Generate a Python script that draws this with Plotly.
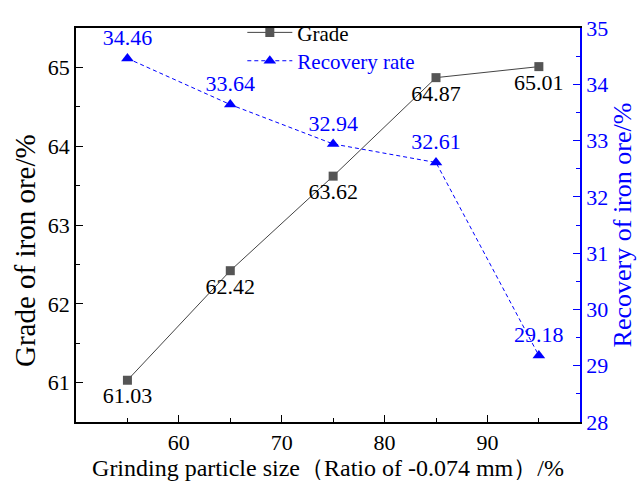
import plotly.graph_objects as go

x_size = [55, 65, 75, 85, 95]
grade = [61.03, 62.42, 63.62, 64.87, 65.01]
recovery = [34.46, 33.64, 32.94, 32.61, 29.18]
grade_labels = ["61.03", "62.42", "63.62", "64.87", "65.01"]
recovery_labels = ["34.46", "33.64", "32.94", "32.61", "29.18"]

FONT = "Liberation Serif"
BLUE = "#0000ff"

fig = go.Figure()
fig.add_trace(go.Scatter(
    x=x_size, y=grade, name="Grade", mode="lines+markers+text",
    legend="legend",
    line=dict(color="#444444", width=1),
    marker=dict(symbol="square", size=9, color="#555555"),
    text=grade_labels, textposition="bottom center",
    textfont=dict(family=FONT, size=22, color="black"),
))
fig.add_trace(go.Scatter(
    x=x_size, y=recovery, name="Recovery rate",
    mode="lines+markers+text", yaxis="y2", legend="legend2",
    line=dict(color=BLUE, width=1, dash="4px,3px"),
    marker=dict(symbol="triangle-up", size=11, color=BLUE),
    text=recovery_labels, textposition="top center",
    textfont=dict(family=FONT, size=22, color=BLUE),
))

legend_common = dict(x=0.33, xanchor="left", yanchor="middle",
                     bgcolor="rgba(0,0,0,0)", itemwidth=45)

fig.update_layout(
    width=644, height=484,
    margin=dict(l=76, r=60, t=16, b=60),
    plot_bgcolor="white", paper_bgcolor="white",
    font=dict(family=FONT, size=22, color="black"),
    showlegend=True,
    legend=dict(y=0.988, font=dict(family=FONT, size=21, color="black"), **legend_common),
    legend2=dict(y=0.916, font=dict(family=FONT, size=21, color=BLUE), **legend_common),
    xaxis=dict(
        range=[50, 99], tickvals=[60, 70, 80, 90],
        ticks="inside", ticklen=7, tickcolor="black", tickwidth=1,
        minor=dict(ticks="inside", tickvals=[55, 65, 75, 85, 95], ticklen=4, tickcolor="black"),
        showline=True, linecolor="black", linewidth=1.5, mirror=True,
        showgrid=False, zeroline=False,
        title=dict(text="Grinding particle size（Ratio of -0.074 mm）/%", font=dict(family=FONT, size=24), standoff=0),
        tickfont=dict(family=FONT, size=22),
    ),
    yaxis=dict(
        range=[60.5, 65.5], tickvals=[61, 62, 63, 64, 65],
        ticks="inside", ticklen=7, tickcolor="black",
        minor=dict(ticks="inside", tickvals=[60.5, 61.5, 62.5, 63.5, 64.5, 65.5], ticklen=4, tickcolor="black"),
        showline=True, linecolor="black", linewidth=1.5,
        showgrid=False, zeroline=False,
        tickfont=dict(family=FONT, size=22),
    ),
    yaxis2=dict(
        range=[28, 35], tickvals=[28, 29, 30, 31, 32, 33, 34, 35],
        overlaying="y", side="right",
        ticks="inside", ticklen=7, tickcolor=BLUE,
        minor=dict(ticks="inside", tickvals=[28.5, 29.5, 30.5, 31.5, 32.5, 33.5, 34.5], ticklen=4, tickcolor=BLUE),
        showline=True, linecolor=BLUE, linewidth=1.5,
        showgrid=False, zeroline=False,
        title=dict(text="Recovery of iron ore/%", font=dict(family=FONT, size=26, color=BLUE), standoff=6),
        tickfont=dict(family=FONT, size=22, color=BLUE),
    ),
)

# Left axis title (placed slightly below centre, as in the reference)
fig.add_annotation(
    text="Grade of iron ore/%", xref="paper", yref="paper",
    x=0, y=0.434, xshift=-51, xanchor="center", yanchor="middle",
    textangle=-90, showarrow=False,
    font=dict(family=FONT, size=29, color="black"),
)

fig.write_html("out.html")
